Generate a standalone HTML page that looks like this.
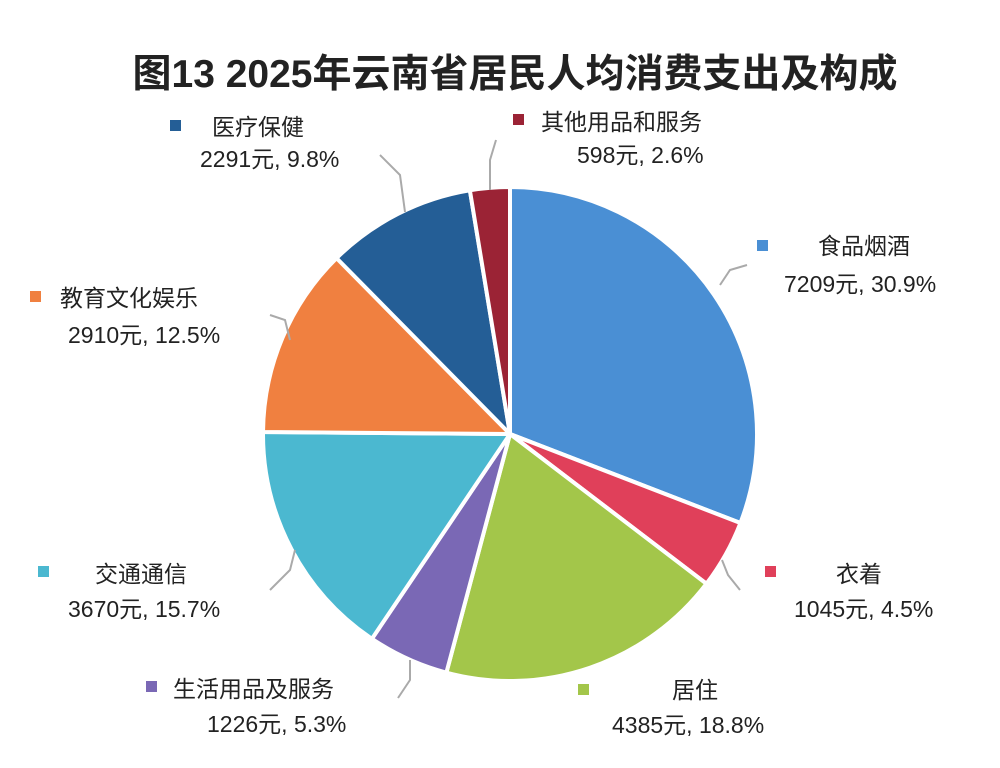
<!DOCTYPE html>
<html><head><meta charset="utf-8">
<style>
body{margin:0;width:1000px;height:768px;background:#fff;overflow:hidden;font-family:"Liberation Sans","Noto Sans CJK SC",sans-serif;}
svg{position:absolute;left:0;top:0}
text{font-family:"Liberation Sans","Noto Sans CJK SC",sans-serif;fill:#222}
</style></head><body>
<svg id="s" width="1000" height="768" viewBox="0 0 1000 768">
<text x="515" y="87" text-anchor="middle" font-size="39" font-weight="bold" fill="#1a1a1a">图13  2025年云南省居民人均消费支出及构成</text>
<g id="pie"></g>
<g stroke="#aaa" stroke-width="2" fill="none">
<polyline points="380,155 400,175 405,212"/>
<polyline points="496,140 490,160 490,190"/>
<polyline points="747,265 730,270 720,285"/>
<polyline points="270,315 285,320 290,340"/>
<polyline points="270,590 290,570 295,550"/>
<polyline points="740,590 728,575 722,560"/>
<polyline points="398,698 410,680 410,660"/>
</g>
<g font-size="23">
<rect x="170" y="120" width="11" height="11" fill="#245e96"/>
<text x="212" y="135">医疗保健</text>
<text x="200" y="167">2291元, 9.8%</text>
<rect x="513" y="114" width="11" height="11" fill="#9b2335"/>
<text x="541" y="130">其他用品和服务</text>
<text x="577" y="163">598元, 2.6%</text>
<rect x="757" y="240" width="11" height="11" fill="#4a8fd4"/>
<text x="818" y="254">食品烟酒</text>
<text x="784" y="292">7209元, 30.9%</text>
<rect x="30" y="291" width="11" height="11" fill="#f08040"/>
<text x="60" y="306">教育文化娱乐</text>
<text x="68" y="343">2910元, 12.5%</text>
<rect x="38" y="566" width="11" height="11" fill="#4bb8d0"/>
<text x="95" y="582">交通通信</text>
<text x="68" y="617">3670元, 15.7%</text>
<rect x="765" y="566" width="11" height="11" fill="#e0405a"/>
<text x="836" y="582">衣着</text>
<text x="794" y="617">1045元, 4.5%</text>
<rect x="146" y="681" width="11" height="11" fill="#7a68b5"/>
<text x="173" y="697">生活用品及服务</text>
<text x="207" y="732">1226元, 5.3%</text>
<rect x="578" y="684" width="11" height="11" fill="#a3c64a"/>
<text x="672" y="698">居住</text>
<text x="612" y="733">4385元, 18.8%</text>
</g>
</svg>
<script>
var d=[[30.9,"#4a8fd4"],[4.5,"#e0405a"],[18.8,"#a3c64a"],[5.3,"#7a68b5"],[15.7,"#4bb8d0"],[12.5,"#f08040"],[9.8,"#245e96"],[2.6,"#9b2335"]];
var cx=510,cy=434,r=247,a=0,h="",tot=100.1;
d.forEach(function(s){
 var a2=a+s[0]/tot*2*Math.PI;
 var x1=cx+r*Math.sin(a),y1=cy-r*Math.cos(a),x2=cx+r*Math.sin(a2),y2=cy-r*Math.cos(a2);
 h+='<path d="M'+cx+','+cy+' L'+x1+','+y1+' A'+r+','+r+' 0 '+((a2-a)>Math.PI?1:0)+' 1 '+x2+','+y2+' Z" fill="'+s[1]+'" stroke="#fff" stroke-width="4" stroke-linejoin="round"/>';
 a=a2;});
document.getElementById("pie").innerHTML=h;
</script>
</body></html>
